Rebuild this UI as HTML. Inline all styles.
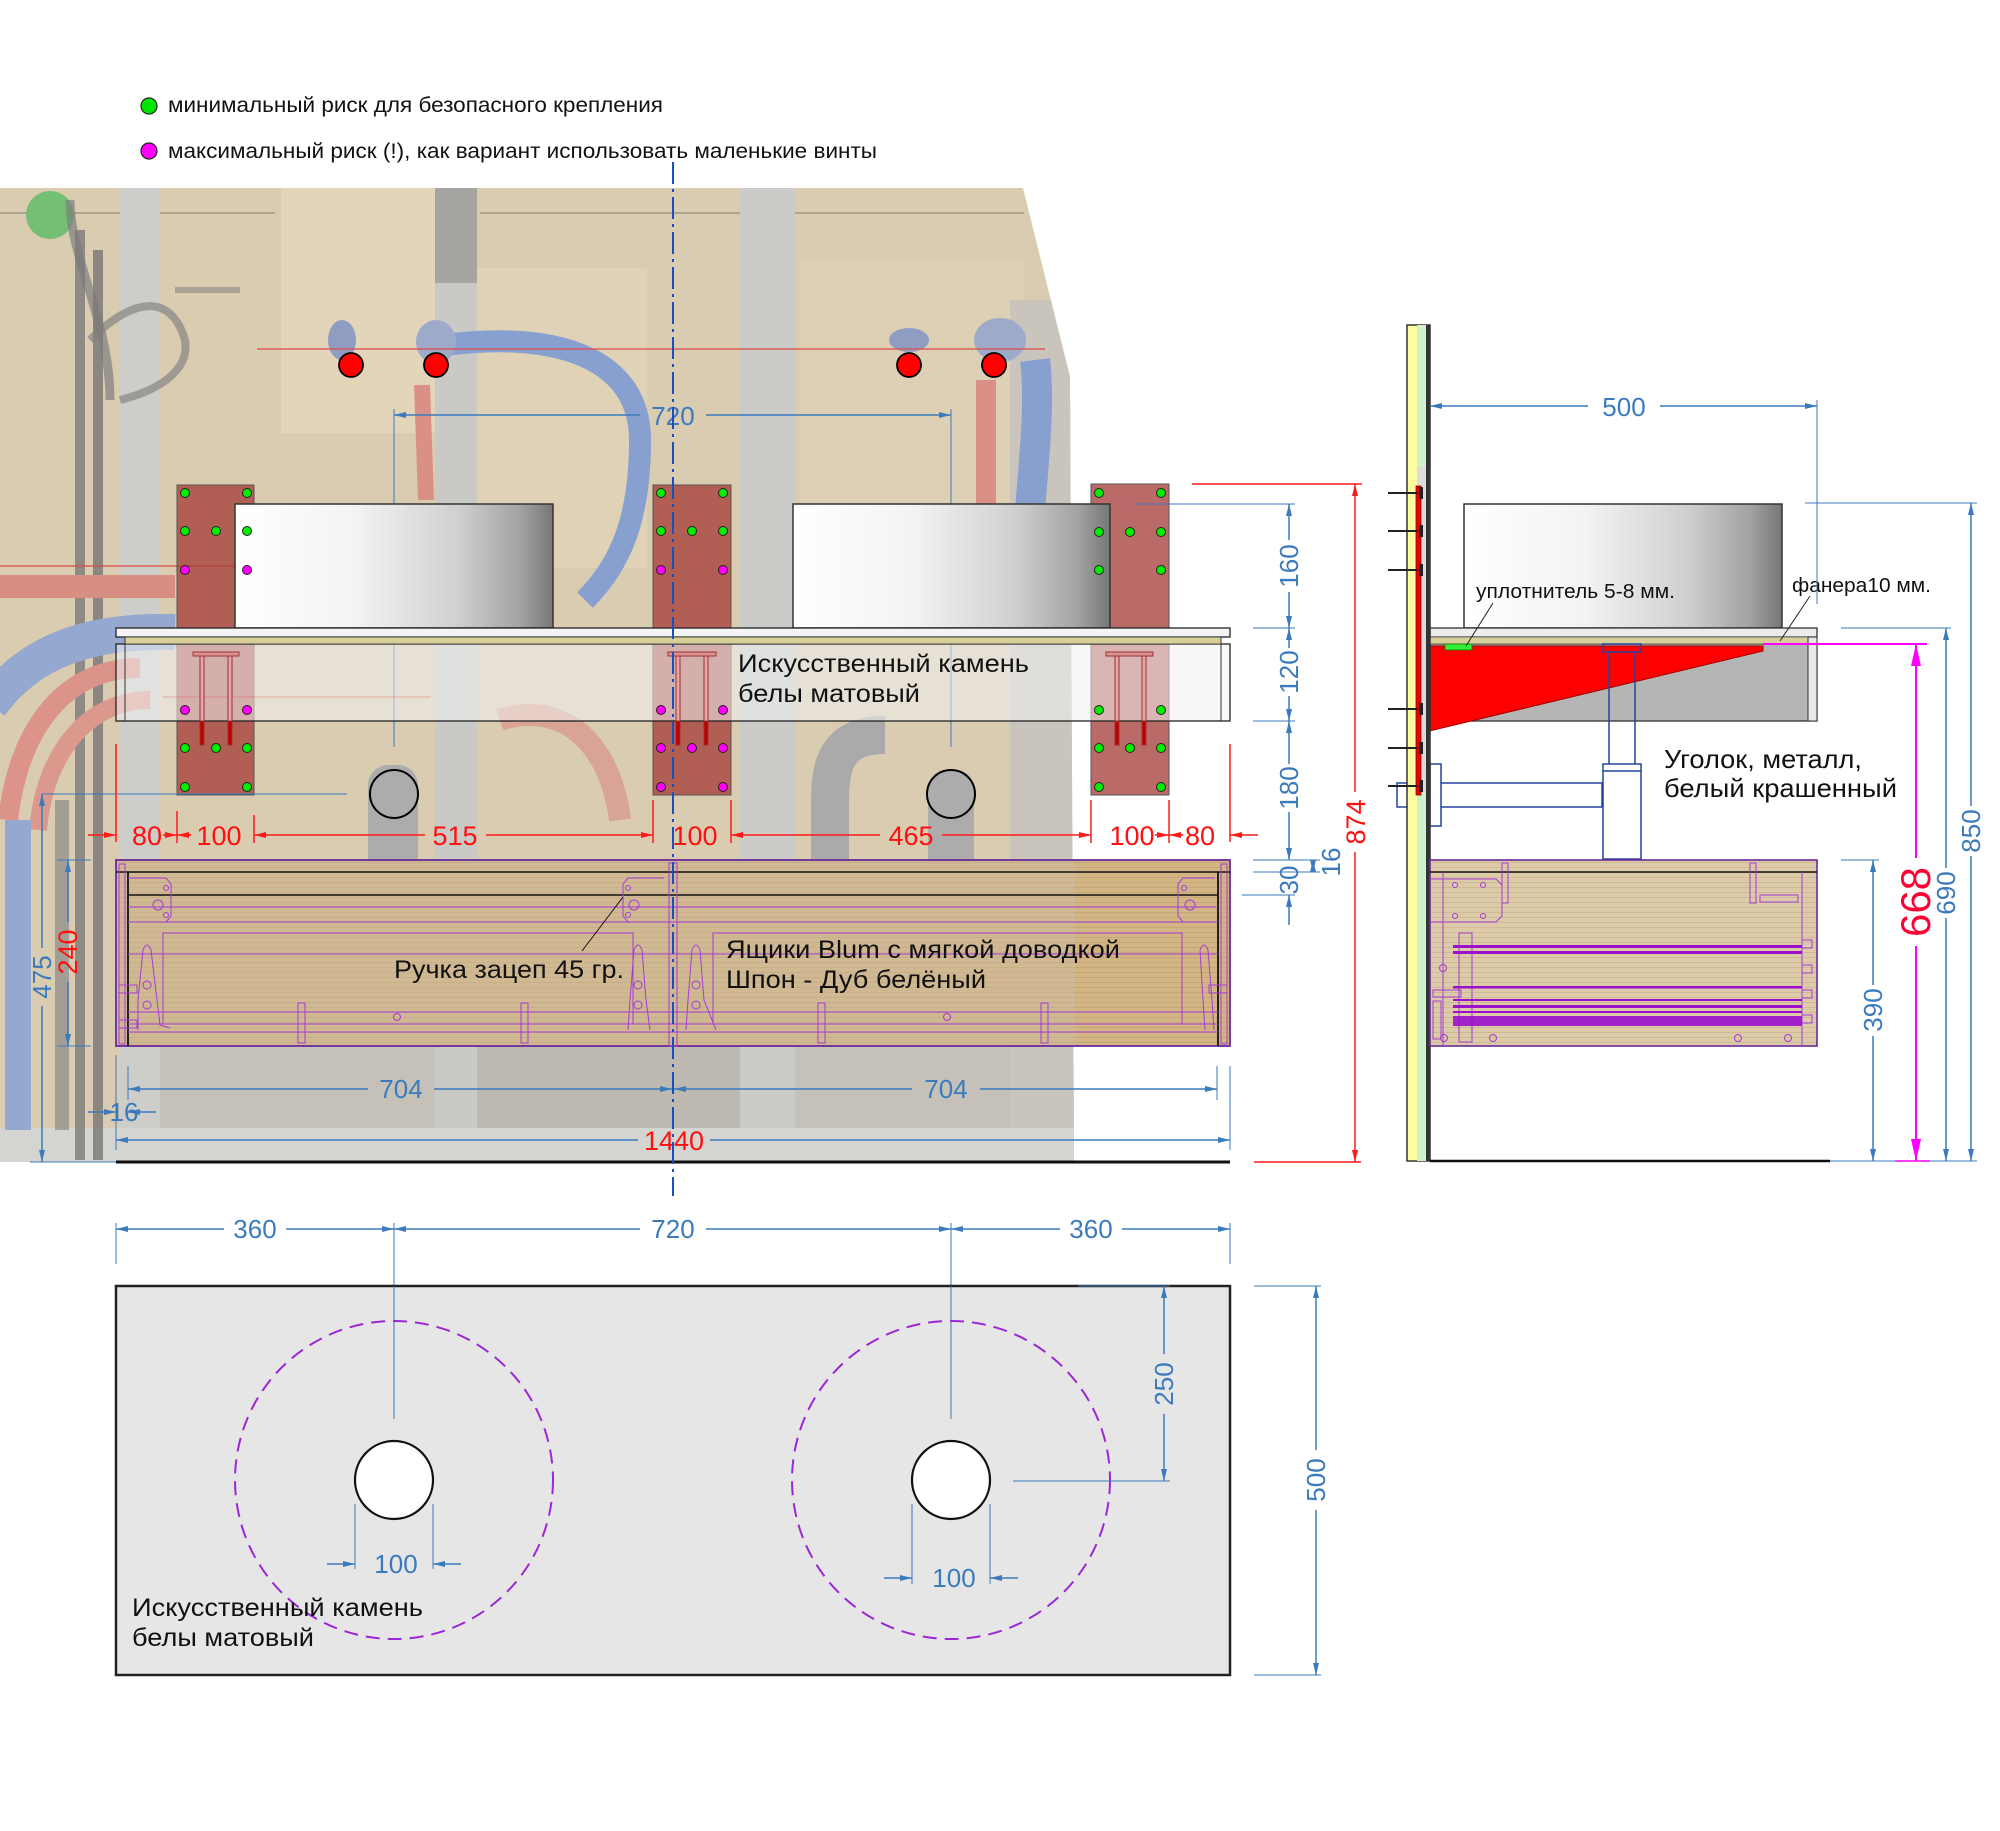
<!DOCTYPE html>
<html><head><meta charset="utf-8">
<style>
html,body{margin:0;padding:0;background:#fff;}
svg{display:block;}
text{font-family:"Liberation Sans","DejaVu Sans",sans-serif;}
.b{stroke:#3b7bbd;stroke-width:1.5;fill:none}
.bt{stroke:#3b7bbd;stroke-width:1;fill:none}
.r{stroke:#ff1a1a;stroke-width:1.5;fill:none}
.p{stroke:#a63ad6;stroke-width:1;fill:none}
.pk{stroke:#8a20c0;stroke-width:1.3;fill:none}
.tb{fill:#3b7bbd;font-size:26px}
.tr{fill:#ff1010;font-size:27px}
.tk{fill:#111;font-size:25px}
</style></head><body>
<svg width="2000" height="1831" viewBox="0 0 2000 1831" xmlns="http://www.w3.org/2000/svg">
<defs>
<marker id="ab" viewBox="0 0 12 6" refX="12" refY="3" markerWidth="12" markerHeight="6" markerUnits="userSpaceOnUse" orient="auto-start-reverse"><path d="M0,0L12,3L0,6z" fill="#3b7bbd"/></marker>
<marker id="ar" viewBox="0 0 12 6" refX="12" refY="3" markerWidth="12" markerHeight="6" markerUnits="userSpaceOnUse" orient="auto-start-reverse"><path d="M0,0L12,3L0,6z" fill="#ff1a1a"/></marker>
<marker id="am" viewBox="0 0 22 10" refX="22" refY="5" markerWidth="22" markerHeight="10" markerUnits="userSpaceOnUse" orient="auto-start-reverse"><path d="M0,0L22,5L0,10z" fill="#ff00ff"/></marker>
<linearGradient id="sk" x1="0" y1="0" x2="1" y2="0">
<stop offset="0" stop-color="#ffffff"/><stop offset="0.38" stop-color="#f3f3f3"/><stop offset="0.7" stop-color="#d0d0d0"/><stop offset="0.9" stop-color="#a2a2a2"/><stop offset="1" stop-color="#767676"/></linearGradient>
<pattern id="grain" width="60" height="5" patternUnits="userSpaceOnUse"><line x1="0" y1="2.5" x2="60" y2="2.5" stroke="#7a5a30" stroke-opacity="0.14" stroke-width="1"/></pattern>
<clipPath id="pc"><polygon points="0,188 1023,188 1070,377 1074,1162 0,1162"/></clipPath>
</defs>

<!-- Legend -->
<circle cx="149" cy="106" r="8" fill="#00e600" stroke="#222" stroke-width="1.2"/>
<text x="168" y="112" font-size="21" fill="#111" textLength="495" lengthAdjust="spacingAndGlyphs">минимальный риск для безопасного крепления</text>
<circle cx="149" cy="151" r="8" fill="#ff00ff" stroke="#222" stroke-width="1.2"/>
<text x="168" y="158" font-size="21" fill="#111" textLength="709" lengthAdjust="spacingAndGlyphs">максимальный риск (!), как вариант использовать маленькие винты</text>

<!-- PHOTO -->
<g clip-path="url(#pc)">
<rect x="0" y="188" width="1080" height="975" fill="#d9ccb1"/>
<rect x="281" y="188" width="154" height="245" fill="#e2d5ba"/>
<rect x="477" y="268" width="170" height="300" fill="#e0d2b6"/>
<rect x="800" y="262" width="224" height="240" fill="#ddd0b5"/>
<rect x="160" y="1040" width="920" height="122" fill="#c6c1b8"/>
<rect x="477" y="1040" width="263" height="122" fill="#bdb8b0"/>
<line x1="0" y1="213" x2="275" y2="213" stroke="#b0a48c" stroke-width="2"/>
<line x1="480" y1="213" x2="1024" y2="213" stroke="#b0a48c" stroke-width="2"/>
<!-- studs -->
<rect x="120" y="188" width="40" height="975" fill="#cdcdca"/>
<rect x="435" y="188" width="42" height="975" fill="#c9c9c5"/>
<rect x="435" y="188" width="42" height="95" fill="#a4a4a0"/>
<rect x="740" y="188" width="55" height="975" fill="#cbcbc7"/>
<rect x="1010" y="300" width="65" height="863" fill="#c9c5bc"/>
<rect x="0" y="1128" width="1080" height="34" fill="#d4d4d0"/>
<!-- green box -->
<circle cx="50" cy="215" r="24" fill="#74bf74"/>
<!-- cables -->
<path d="M80 230 L80 1160" stroke="#757575" stroke-width="10" fill="none" opacity="0.75"/>
<path d="M98 250 L98 1160" stroke="#707070" stroke-width="10" fill="none" opacity="0.75"/>
<path d="M70 200 C70 260 110 320 110 400" stroke="#7a7a7a" stroke-width="9" fill="none" opacity="0.65"/>
<path d="M90 340 C130 300 170 290 185 340 C190 370 160 390 120 400" stroke="#7f7f7f" stroke-width="8" fill="none" opacity="0.65"/>
<path d="M175 290 L240 290" stroke="#7f7f7f" stroke-width="6" fill="none" opacity="0.55"/>
<!-- left pipes -->
<rect x="0" y="575" width="175" height="23" fill="#d98e82"/>
<path d="M175 632 C90 630 30 650 -10 705" stroke="#94a8d0" stroke-width="36" fill="none"/>
<path d="M140 668 C70 668 20 720 8 820" stroke="#db938a" stroke-width="20" fill="none"/>
<path d="M150 700 C90 700 45 750 38 830" stroke="#db998e" stroke-width="18" fill="none"/>
<rect x="5" y="820" width="26" height="310" fill="#94a8d0"/>
<rect x="55" y="800" width="14" height="330" fill="#858585" opacity="0.65"/>
<!-- top pipes -->
<path d="M445 345 C560 330 640 360 640 440 C640 520 620 565 585 600" stroke="#88a0d0" stroke-width="22" fill="none"/>
<ellipse cx="342" cy="340" rx="14" ry="20" fill="#909dc2"/>
<ellipse cx="436" cy="342" rx="20" ry="22" fill="#9eaaca"/>
<path d="M422 385 L426 500" stroke="#da9087" stroke-width="16" fill="none"/>
<ellipse cx="909" cy="340" rx="20" ry="12" fill="#909dc2"/>
<ellipse cx="1000" cy="340" rx="26" ry="22" fill="#9eaaca"/>
<path d="M986 380 L986 520" stroke="#da9087" stroke-width="20" fill="none"/>
<path d="M1035 360 C1040 400 1035 450 1030 510" stroke="#88a0d0" stroke-width="30" fill="none"/>
<path d="M500 720 C560 700 610 740 620 820" stroke="#d8978e" stroke-width="22" fill="none" opacity="0.75"/>
<!-- drains -->
<rect x="368" y="765" width="50" height="125" rx="20" fill="#acacac"/>
<path d="M885 735 C840 735 830 760 830 800 L830 890" stroke="#aaaaaa" stroke-width="38" fill="none"/>
<rect x="928" y="770" width="46" height="120" rx="18" fill="#acacac"/>
</g>

<!-- red line & dots -->
<line x1="257" y1="349" x2="1045" y2="349" stroke="#e04848" stroke-width="1.2"/>
<line x1="0" y1="566" x2="235" y2="566" stroke="#e04848" stroke-width="1.2"/>
<g fill="#ff0000" stroke="#000" stroke-width="1.8">
<circle cx="351" cy="365" r="12"/><circle cx="436" cy="365" r="12"/><circle cx="909" cy="365" r="12"/><circle cx="994" cy="365" r="12"/>
</g>

<!-- top 720 dimension -->
<line class="bt" x1="394" y1="409" x2="394" y2="747"/>
<line class="bt" x1="951" y1="409" x2="951" y2="747"/>
<line class="b" x1="394" y1="415" x2="640" y2="415" marker-start="url(#ab)"/>
<line class="b" x1="706" y1="415" x2="951" y2="415" marker-end="url(#ab)"/>
<text class="tb" x="673" y="425" text-anchor="middle" font-size="27">720</text>

<!-- plates -->
<g fill="#a33a35" fill-opacity="0.75" stroke="#555" stroke-width="1">
<rect x="177" y="485" width="77" height="310"/>
<rect x="653" y="485" width="78" height="310"/>
<rect x="1091" y="484" width="78" height="311"/>
</g>

<!-- sinks -->
<rect x="235" y="504" width="318" height="124" fill="url(#sk)" stroke="#333" stroke-width="1.5"/>
<rect x="793" y="504" width="317" height="124" fill="url(#sk)" stroke="#333" stroke-width="1.5"/>

<!-- countertop front -->
<rect x="116" y="644" width="1114" height="77" fill="#f2f2f2" fill-opacity="0.55" stroke="#222" stroke-width="1.3"/>
<rect x="116" y="628" width="1114" height="9" fill="#f4f4f4" stroke="#222" stroke-width="1.3"/>
<rect x="125" y="637" width="1096" height="7" fill="#d8cf98" stroke="#333" stroke-width="0.8"/>
<line x1="125" y1="637" x2="125" y2="721" stroke="#333" stroke-width="1"/>
<line x1="1221" y1="637" x2="1221" y2="721" stroke="#333" stroke-width="1"/>
<line x1="163" y1="697" x2="431" y2="697" stroke="#e06060" stroke-width="0.8" opacity="0.6"/>

<!-- T brackets -->
<g stroke="#a03030" stroke-width="1">
<rect x="193" y="652" width="46" height="4" fill="#d89494"/>
<rect x="200" y="656" width="4" height="89" fill="#e0a8a8"/>
<rect x="228" y="656" width="4" height="89" fill="#e0a8a8"/>
<rect x="200" y="721" width="4" height="24" fill="#c00000"/>
<rect x="228" y="721" width="4" height="24" fill="#c00000"/>
<rect x="668" y="652" width="48" height="4" fill="#d89494"/>
<rect x="676" y="656" width="4" height="89" fill="#e0a8a8"/>
<rect x="704" y="656" width="4" height="89" fill="#e0a8a8"/>
<rect x="676" y="721" width="4" height="24" fill="#c00000"/>
<rect x="704" y="721" width="4" height="24" fill="#c00000"/>
<rect x="1106" y="652" width="47" height="4" fill="#d89494"/>
<rect x="1115" y="656" width="4" height="89" fill="#e0a8a8"/>
<rect x="1142" y="656" width="4" height="89" fill="#e0a8a8"/>
<rect x="1115" y="721" width="4" height="24" fill="#c00000"/>
<rect x="1142" y="721" width="4" height="24" fill="#c00000"/>
</g>

<!-- dots -->
<g stroke="#222" stroke-width="1" fill="#00ee00">
<circle cx="185" cy="493" r="4.5"/><circle cx="247" cy="493" r="4.5"/>
<circle cx="185" cy="531" r="4.5"/><circle cx="216" cy="531" r="4.5"/><circle cx="247" cy="531" r="4.5"/>
<circle cx="185" cy="748" r="4.5"/><circle cx="216" cy="748" r="4.5"/><circle cx="247" cy="748" r="4.5"/>
<circle cx="185" cy="787" r="4.5"/><circle cx="247" cy="787" r="4.5"/>
<circle cx="661" cy="493" r="4.5"/><circle cx="723" cy="493" r="4.5"/>
<circle cx="661" cy="531" r="4.5"/><circle cx="692" cy="531" r="4.5"/><circle cx="723" cy="531" r="4.5"/>
<circle cx="1099" cy="493" r="4.5"/><circle cx="1161" cy="493" r="4.5"/>
<circle cx="1099" cy="532" r="4.5"/><circle cx="1130" cy="532" r="4.5"/><circle cx="1161" cy="532" r="4.5"/>
<circle cx="1099" cy="570" r="4.5"/><circle cx="1161" cy="570" r="4.5"/>
<circle cx="1099" cy="710" r="4.5"/><circle cx="1161" cy="710" r="4.5"/>
<circle cx="1099" cy="748" r="4.5"/><circle cx="1130" cy="748" r="4.5"/><circle cx="1161" cy="748" r="4.5"/>
<circle cx="1099" cy="787" r="4.5"/><circle cx="1161" cy="787" r="4.5"/>
</g>
<g stroke="#222" stroke-width="1" fill="#ff00ff">
<circle cx="185" cy="570" r="4.5"/><circle cx="247" cy="570" r="4.5"/>
<circle cx="185" cy="710" r="4.5"/><circle cx="247" cy="710" r="4.5"/>
<circle cx="661" cy="570" r="4.5"/><circle cx="723" cy="570" r="4.5"/>
<circle cx="661" cy="710" r="4.5"/><circle cx="723" cy="710" r="4.5"/>
<circle cx="661" cy="748" r="4.5"/><circle cx="692" cy="748" r="4.5"/><circle cx="723" cy="748" r="4.5"/>
<circle cx="661" cy="787" r="4.5"/><circle cx="723" cy="787" r="4.5"/>
</g>

<!-- drain circles -->
<circle cx="394" cy="794" r="24" fill="none" stroke="#000" stroke-width="2"/>
<circle cx="951" cy="794" r="24" fill="none" stroke="#000" stroke-width="2"/>
<line class="bt" x1="42" y1="794" x2="347" y2="794"/>

<!-- red dimension row -->
<line class="r" x1="116" y1="744" x2="116" y2="842"/>
<line class="r" x1="177" y1="811" x2="177" y2="843"/>
<line class="r" x1="254" y1="815" x2="254" y2="843"/>
<line class="r" x1="653" y1="800" x2="653" y2="843"/>
<line class="r" x1="731" y1="800" x2="731" y2="843"/>
<line class="r" x1="1091" y1="800" x2="1091" y2="843"/>
<line class="r" x1="1169" y1="800" x2="1169" y2="843"/>
<line class="r" x1="1230" y1="744" x2="1230" y2="842"/>
<line class="r" x1="88" y1="835" x2="116" y2="835" marker-end="url(#ar)"/>
<line class="r" x1="163" y1="835" x2="177" y2="835" marker-end="url(#ar)"/>
<line class="r" x1="191" y1="835" x2="177" y2="835" marker-end="url(#ar)"/>
<line class="r" x1="254" y1="835" x2="425" y2="835" marker-start="url(#ar)"/>
<line class="r" x1="486" y1="835" x2="653" y2="835" marker-end="url(#ar)"/>
<line class="r" x1="731" y1="835" x2="880" y2="835" marker-start="url(#ar)"/>
<line class="r" x1="942" y1="835" x2="1091" y2="835" marker-end="url(#ar)"/>
<line class="r" x1="1155" y1="835" x2="1169" y2="835" marker-end="url(#ar)"/>
<line class="r" x1="1183" y1="835" x2="1169" y2="835" marker-end="url(#ar)"/>
<line class="r" x1="1258" y1="835" x2="1230" y2="835" marker-end="url(#ar)"/>
<g class="tr" text-anchor="middle">
<text x="147" y="845">80</text><text x="219" y="845">100</text><text x="455" y="845">515</text>
<text x="695" y="845">100</text><text x="911" y="845">465</text><text x="1132" y="845">100</text><text x="1200" y="845">80</text>
</g>

<!-- front cabinet -->
<rect x="116" y="860" width="1114" height="186" fill="#d3b584"/>
<rect x="116" y="860" width="1114" height="186" fill="url(#grain)"/>
<rect x="116" y="860" width="959" height="186" fill="#c9c2b4" fill-opacity="0.3"/>
<rect x="116" y="860" width="1114" height="186" fill="none" stroke="#6a2a9a" stroke-width="1.8"/>
<line x1="116" y1="872" x2="1230" y2="872" stroke="#111" stroke-width="1.6"/>
<line x1="128" y1="895" x2="1218" y2="895" stroke="#111" stroke-width="1.4"/>
<line x1="128" y1="872" x2="128" y2="1046" stroke="#111" stroke-width="1.8"/>
<line x1="1218" y1="872" x2="1218" y2="1046" stroke="#111" stroke-width="1.8"/>
<g class="p">
<line x1="128" y1="907" x2="1218" y2="907"/><line x1="128" y1="922" x2="1218" y2="922"/>
<line x1="128" y1="954" x2="1218" y2="954"/>
<line x1="128" y1="1012" x2="1218" y2="1012"/><line x1="128" y1="1024" x2="1218" y2="1024"/><line x1="128" y1="1032" x2="1218" y2="1032"/>
<rect x="163" y="933" width="470" height="91"/>
<rect x="713" y="933" width="469" height="91"/>
<rect x="669" y="863" width="8" height="183"/>
<rect x="119" y="864" width="6" height="180"/>
<rect x="1221" y="864" width="6" height="180"/>
<path d="M128 878 L166 878 L171 884 L171 916 L166 922 L128 922"/>
<circle cx="158" cy="905" r="5"/><circle cx="166" cy="888" r="2.5"/><circle cx="166" cy="915" r="2.5"/>
<path d="M664 878 L628 878 L623 884 L623 916 L628 922 L664 922"/>
<circle cx="634" cy="905" r="5"/><circle cx="628" cy="888" r="2.5"/><circle cx="628" cy="915" r="2.5"/>
<path d="M1215 878 L1183 878 L1178 884 L1178 916 L1183 922 L1215 922"/>
<circle cx="1190" cy="905" r="5"/><circle cx="1184" cy="888" r="2.5"/>
<path d="M138 1030 L138 1000 L143 950 Q147 940 151 950 L157 1000 L160 1025 L170 1028"/>
<circle cx="147" cy="985" r="4"/><circle cx="147" cy="1005" r="4"/>
<path d="M628 1030 L630 1000 L634 950 Q638 940 642 950 L646 1000 L650 1030"/>
<circle cx="638" cy="985" r="4"/><circle cx="638" cy="1005" r="4"/>
<path d="M686 1030 L688 1000 L692 950 Q696 940 700 950 L704 1000 L716 1030"/>
<circle cx="696" cy="985" r="4"/><circle cx="696" cy="1005" r="4"/>
<path d="M1205 1030 L1203 1000 L1200 950 Q1204 940 1208 950 L1212 1000 L1214 1030"/>
<rect x="298" y="1003" width="7" height="40"/><rect x="521" y="1003" width="7" height="40"/>
<rect x="818" y="1003" width="7" height="40"/><rect x="1041" y="1003" width="7" height="40"/>
<circle cx="397" cy="1017" r="3.5"/><circle cx="947" cy="1017" r="3.5"/>
<rect x="119" y="985" width="18" height="8"/><rect x="119" y="1020" width="18" height="8"/><rect x="1209" y="985" width="18" height="8"/>
</g>
<line x1="582" y1="951" x2="623" y2="897" stroke="#111" stroke-width="1"/>
<text class="tk" x="394" y="978" textLength="230" lengthAdjust="spacingAndGlyphs">Ручка зацеп 45 гр.</text>
<text class="tk" x="726" y="958" textLength="394" lengthAdjust="spacingAndGlyphs">Ящики Blum с мягкой доводкой</text>
<text class="tk" x="726" y="988" textLength="260" lengthAdjust="spacingAndGlyphs">Шпон - Дуб белёный</text>
<text class="tk" x="738" y="672" textLength="291" lengthAdjust="spacingAndGlyphs">Искусственный камень</text>
<text class="tk" x="738" y="702" textLength="182" lengthAdjust="spacingAndGlyphs">белы матовый</text>

<!-- dims below cabinet -->
<line class="bt" x1="116" y1="1055" x2="116" y2="1150"/>
<line class="bt" x1="128" y1="1066" x2="128" y2="1100"/>
<line class="bt" x1="1217" y1="1066" x2="1217" y2="1100"/>
<line class="bt" x1="1230" y1="1066" x2="1230" y2="1150"/>
<line class="b" x1="128" y1="1089" x2="368" y2="1089" marker-start="url(#ab)"/>
<line class="b" x1="434" y1="1089" x2="672" y2="1089" marker-end="url(#ab)"/>
<text class="tb" x="401" y="1098" text-anchor="middle">704</text>
<line class="b" x1="674" y1="1089" x2="912" y2="1089" marker-start="url(#ab)"/>
<line class="b" x1="980" y1="1089" x2="1217" y2="1089" marker-end="url(#ab)"/>
<text class="tb" x="946" y="1098" text-anchor="middle">704</text>
<line class="b" x1="88" y1="1112" x2="116" y2="1112" marker-end="url(#ab)"/>
<line class="b" x1="156" y1="1112" x2="128" y2="1112" marker-end="url(#ab)"/>
<text class="tb" x="124" y="1121" text-anchor="middle">16</text>
<line class="b" x1="116" y1="1140" x2="638" y2="1140" marker-start="url(#ab)"/>
<line class="b" x1="710" y1="1140" x2="1230" y2="1140" marker-end="url(#ab)"/>
<text class="tr" x="674" y="1150" text-anchor="middle">1440</text>
<line x1="116" y1="1162" x2="1230" y2="1162" stroke="#111" stroke-width="3"/>
<line class="bt" x1="30" y1="1162" x2="116" y2="1162"/>
<!-- 475 / 240 -->
<line class="b" x1="42" y1="794" x2="42" y2="948" marker-start="url(#ab)"/>
<line class="b" x1="42" y1="1006" x2="42" y2="1162" marker-end="url(#ab)"/>
<text class="tb" transform="translate(51,977) rotate(-90)" text-anchor="middle">475</text>
<line class="bt" x1="57" y1="860" x2="91" y2="860"/>
<line class="bt" x1="57" y1="1046" x2="91" y2="1046"/>
<line class="b" x1="68" y1="860" x2="68" y2="922" marker-start="url(#ab)"/>
<line class="b" x1="68" y1="982" x2="68" y2="1046" marker-end="url(#ab)"/>
<text class="tr" transform="translate(77,952) rotate(-90)" text-anchor="middle">240</text>

<!-- centerline -->
<line x1="673" y1="162" x2="673" y2="1196" stroke="#1a4fc0" stroke-width="2" stroke-dasharray="22 5 3 5"/>

<!-- front right dims -->
<line class="bt" x1="1133" y1="504" x2="1295" y2="504"/>
<line class="bt" x1="1253" y1="628" x2="1295" y2="628"/>
<line class="bt" x1="1253" y1="721" x2="1295" y2="721"/>
<line class="bt" x1="1253" y1="860" x2="1320" y2="860"/>
<line class="bt" x1="1253" y1="872" x2="1320" y2="872"/>
<line class="bt" x1="1242" y1="895" x2="1295" y2="895"/>
<line class="b" x1="1289" y1="504" x2="1289" y2="540" marker-start="url(#ab)"/>
<line class="b" x1="1289" y1="592" x2="1289" y2="628" marker-end="url(#ab)"/>
<text class="tb" transform="translate(1298,566) rotate(-90)" text-anchor="middle">160</text>
<line class="b" x1="1289" y1="628" x2="1289" y2="648" marker-start="url(#ab)"/>
<line class="b" x1="1289" y1="696" x2="1289" y2="721" marker-end="url(#ab)"/>
<text class="tb" transform="translate(1298,672) rotate(-90)" text-anchor="middle">120</text>
<line class="b" x1="1289" y1="721" x2="1289" y2="764" marker-start="url(#ab)"/>
<line class="b" x1="1289" y1="812" x2="1289" y2="860" marker-end="url(#ab)"/>
<text class="tb" transform="translate(1298,788) rotate(-90)" text-anchor="middle">180</text>
<line class="b" x1="1289" y1="895" x2="1289" y2="925" marker-start="url(#ab)"/>
<text class="tb" transform="translate(1298,880) rotate(-90)" text-anchor="middle">30</text>
<line class="b" x1="1313" y1="872" x2="1313" y2="860" marker-end="url(#ab)"/>
<line class="b" x1="1313" y1="860" x2="1313" y2="872" marker-end="url(#ab)"/>
<text class="tb" transform="translate(1340,862) rotate(-90)" text-anchor="middle">16</text>
<line class="r" x1="1192" y1="484" x2="1362" y2="484"/>
<line class="r" x1="1254" y1="1162" x2="1361" y2="1162"/>
<line class="r" x1="1355" y1="484" x2="1355" y2="792" marker-start="url(#ar)"/>
<line class="r" x1="1355" y1="852" x2="1355" y2="1162" marker-end="url(#ar)"/>
<text class="tr" transform="translate(1365,822) rotate(-90)" text-anchor="middle">874</text>

<!-- RIGHT SIDE VIEW -->
<rect x="1464" y="504" width="318" height="124" fill="url(#sk)" stroke="#333" stroke-width="1.5"/>
<rect x="1430" y="644" width="387" height="77" fill="#b5b5b5" stroke="#333" stroke-width="1.3"/>
<rect x="1430" y="628" width="387" height="9" fill="#ececec" stroke="#333" stroke-width="1.3"/>
<rect x="1430" y="637" width="378" height="7" fill="#d8cf9a" stroke="#555" stroke-width="0.8"/>
<rect x="1808" y="637" width="9" height="84" fill="#e8e8e8" stroke="#333" stroke-width="1"/>
<polygon points="1421,646 1763,646 1763,651 1421,733" fill="#ff0000" stroke="#a00000" stroke-width="1"/>
<rect x="1445" y="644" width="27" height="6" fill="#33ee33" stroke="#080" stroke-width="0.8"/>
<!-- siphon -->
<g stroke="#2244a0" stroke-width="1.5" fill="none">
<rect x="1603" y="644" width="38" height="8"/>
<line x1="1609" y1="652" x2="1609" y2="764"/><line x1="1635" y1="652" x2="1635" y2="764"/>
<rect x="1603" y="764" width="38" height="95" fill="#fff"/>
<line x1="1603" y1="771" x2="1641" y2="771"/>
<rect x="1397" y="783" width="205" height="24" fill="#fff" fill-opacity="0.6"/>
<rect x="1430" y="764" width="11" height="62" fill="#fff"/>
</g>
<!-- wall -->
<rect x="1407" y="325" width="23" height="836" fill="#fdfda0" stroke="#333" stroke-width="1.5"/>
<rect x="1417" y="325" width="9" height="836" fill="#ccf3cc"/>
<rect x="1417" y="467" width="9" height="326" fill="#dcdcdc"/>
<rect x="1426" y="325" width="4" height="836" fill="#333"/>
<rect x="1416" y="486" width="5" height="309" fill="#ee0000" stroke="#800" stroke-width="0.8"/>
<g stroke="#222" stroke-width="2">
<line x1="1388" y1="493" x2="1418" y2="493"/><line x1="1388" y1="531" x2="1418" y2="531"/><line x1="1388" y1="570" x2="1418" y2="570"/>
<line x1="1388" y1="709" x2="1418" y2="709"/><line x1="1388" y1="748" x2="1418" y2="748"/><line x1="1388" y1="786" x2="1418" y2="786"/>
</g>
<g fill="#222">
<rect x="1419" y="487" width="4" height="12"/><rect x="1419" y="525" width="4" height="12"/><rect x="1419" y="564" width="4" height="12"/>
<rect x="1419" y="703" width="4" height="12"/><rect x="1419" y="742" width="4" height="12"/><rect x="1419" y="780" width="4" height="12"/>
</g>
<line x1="1763" y1="644" x2="1927" y2="644" stroke="#ff00ff" stroke-width="2"/>
<!-- side cabinet -->
<rect x="1430" y="860" width="387" height="186" fill="#dccaa9"/>
<rect x="1430" y="860" width="387" height="186" fill="url(#grain)"/>
<rect x="1430" y="860" width="387" height="186" fill="none" stroke="#6a2a9a" stroke-width="1.6"/>
<line x1="1430" y1="872" x2="1817" y2="872" stroke="#111" stroke-width="1.5"/>
<g class="p">
<line x1="1443" y1="872" x2="1443" y2="1046"/><line x1="1802" y1="872" x2="1802" y2="1046"/>
<path d="M1430 879 L1496 879 L1502 885 L1502 916 L1496 922 L1430 922"/>
<circle cx="1455" cy="885" r="2.5"/><circle cx="1483" cy="885" r="2.5"/><circle cx="1455" cy="916" r="2.5"/><circle cx="1483" cy="916" r="2.5"/>
<rect x="1502" y="863" width="6" height="40"/><rect x="1750" y="863" width="6" height="40"/>
<rect x="1760" y="895" width="38" height="7"/>
<rect x="1459" y="933" width="13" height="109"/>
<rect x="1433" y="990" width="28" height="7"/>
<rect x="1433" y="1001" width="8" height="38"/>
<rect x="1802" y="940" width="10" height="8"/><rect x="1802" y="965" width="10" height="8"/><rect x="1802" y="990" width="10" height="8"/><rect x="1802" y="1015" width="10" height="8"/>
<circle cx="1443" cy="968" r="3.5"/><circle cx="1444" cy="1038" r="3.5"/><circle cx="1493" cy="1038" r="3.5"/><circle cx="1738" cy="1038" r="3.5"/><circle cx="1788" cy="1038" r="3.5"/>
</g>
<g fill="#9a10cc">
<rect x="1453" y="945" width="349" height="3"/>
<rect x="1453" y="951" width="349" height="3"/>
<rect x="1453" y="986" width="349" height="2.5"/>
<rect x="1453" y="999" width="349" height="2"/>
<rect x="1453" y="1005" width="349" height="3"/>
<rect x="1453" y="1011" width="349" height="2"/>
<rect x="1453" y="1016" width="349" height="10" fill-opacity="0.9"/>
</g>
<line x1="1430" y1="1161" x2="1830" y2="1161" stroke="#111" stroke-width="2.5"/>
<!-- labels right -->
<line x1="1493" y1="603" x2="1466" y2="646" stroke="#222" stroke-width="1"/>
<line x1="1810" y1="596" x2="1780" y2="641" stroke="#222" stroke-width="1"/>
<text x="1476" y="598" font-size="20" fill="#111" textLength="199" lengthAdjust="spacingAndGlyphs">уплотнитель 5-8 мм.</text>
<text x="1792" y="592" font-size="20" fill="#111" textLength="139" lengthAdjust="spacingAndGlyphs">фанера10 мм.</text>
<text x="1664" y="768" font-size="26" fill="#111" textLength="198" lengthAdjust="spacingAndGlyphs">Уголок, металл,</text>
<text x="1664" y="797" font-size="26" fill="#111" textLength="233" lengthAdjust="spacingAndGlyphs">белый крашенный</text>
<!-- right dims -->
<line class="bt" x1="1817" y1="400" x2="1817" y2="604"/>
<line class="b" x1="1430" y1="406" x2="1588" y2="406" marker-start="url(#ab)"/>
<line class="b" x1="1660" y1="406" x2="1817" y2="406" marker-end="url(#ab)"/>
<text class="tb" x="1624" y="416" text-anchor="middle" font-size="27">500</text>
<line class="bt" x1="1805" y1="503" x2="1977" y2="503"/>
<line class="bt" x1="1841" y1="628" x2="1951" y2="628"/>
<line class="bt" x1="1841" y1="860" x2="1879" y2="860"/>
<line class="bt" x1="1830" y1="1161" x2="1977" y2="1161"/>
<line x1="1895" y1="1161" x2="1930" y2="1161" stroke="#ff00ff" stroke-width="1.5"/>
<line class="b" x1="1873" y1="860" x2="1873" y2="985" marker-start="url(#ab)"/>
<line class="b" x1="1873" y1="1036" x2="1873" y2="1161" marker-end="url(#ab)"/>
<text class="tb" transform="translate(1882,1010) rotate(-90)" text-anchor="middle">390</text>
<line x1="1916" y1="644" x2="1916" y2="858" stroke="#ff00ff" stroke-width="2" marker-start="url(#am)"/>
<line x1="1916" y1="946" x2="1916" y2="1161" stroke="#ff00ff" stroke-width="2" marker-end="url(#am)"/>
<text transform="translate(1930,902) rotate(-90)" text-anchor="middle" font-size="42" fill="#ff0033">668</text>
<line class="b" x1="1946" y1="628" x2="1946" y2="868" marker-start="url(#ab)"/>
<line class="b" x1="1946" y1="918" x2="1946" y2="1161" marker-end="url(#ab)"/>
<text class="tb" transform="translate(1955,893) rotate(-90)" text-anchor="middle">690</text>
<line class="b" x1="1971" y1="503" x2="1971" y2="806" marker-start="url(#ab)"/>
<line class="b" x1="1971" y1="856" x2="1971" y2="1161" marker-end="url(#ab)"/>
<text class="tb" transform="translate(1980,831) rotate(-90)" text-anchor="middle">850</text>

<!-- PLAN VIEW -->
<line class="bt" x1="116" y1="1223" x2="116" y2="1264"/>
<line class="bt" x1="1230" y1="1223" x2="1230" y2="1264"/>
<line class="bt" x1="394" y1="1223" x2="394" y2="1419"/>
<line class="bt" x1="951" y1="1223" x2="951" y2="1419"/>
<line class="b" x1="116" y1="1229" x2="224" y2="1229" marker-start="url(#ab)"/>
<line class="b" x1="286" y1="1229" x2="394" y2="1229" marker-end="url(#ab)"/>
<text class="tb" x="255" y="1238" text-anchor="middle">360</text>
<line class="b" x1="394" y1="1229" x2="640" y2="1229" marker-start="url(#ab)"/>
<line class="b" x1="706" y1="1229" x2="951" y2="1229" marker-end="url(#ab)"/>
<text class="tb" x="673" y="1238" text-anchor="middle">720</text>
<line class="b" x1="951" y1="1229" x2="1060" y2="1229" marker-start="url(#ab)"/>
<line class="b" x1="1122" y1="1229" x2="1230" y2="1229" marker-end="url(#ab)"/>
<text class="tb" x="1091" y="1238" text-anchor="middle">360</text>
<rect x="116" y="1286" width="1114" height="389" fill="#e6e6e6" stroke="#222" stroke-width="2.5"/>
<line class="bt" x1="394" y1="1286" x2="394" y2="1419"/>
<line class="bt" x1="951" y1="1286" x2="951" y2="1419"/>
<circle cx="394" cy="1480" r="159" fill="none" stroke="#9b27d6" stroke-width="2" stroke-dasharray="14 8"/>
<circle cx="951" cy="1480" r="159" fill="none" stroke="#9b27d6" stroke-width="2" stroke-dasharray="14 8"/>
<circle cx="394" cy="1480" r="39" fill="#fff" stroke="#111" stroke-width="2.2"/>
<circle cx="951" cy="1480" r="39" fill="#fff" stroke="#111" stroke-width="2.2"/>
<line class="bt" x1="355" y1="1504" x2="355" y2="1569"/>
<line class="bt" x1="433" y1="1504" x2="433" y2="1569"/>
<line class="b" x1="327" y1="1564" x2="355" y2="1564" marker-end="url(#ab)"/>
<line class="b" x1="461" y1="1564" x2="433" y2="1564" marker-end="url(#ab)"/>
<text class="tb" x="396" y="1573" text-anchor="middle">100</text>
<line class="bt" x1="912" y1="1504" x2="912" y2="1584"/>
<line class="bt" x1="990" y1="1504" x2="990" y2="1584"/>
<line class="b" x1="884" y1="1578" x2="912" y2="1578" marker-end="url(#ab)"/>
<line class="b" x1="1018" y1="1578" x2="990" y2="1578" marker-end="url(#ab)"/>
<text class="tb" x="954" y="1587" text-anchor="middle">100</text>
<line class="bt" x1="1078" y1="1286" x2="1170" y2="1286"/>
<line class="bt" x1="1013" y1="1481" x2="1170" y2="1481"/>
<line class="b" x1="1164" y1="1286" x2="1164" y2="1354" marker-start="url(#ab)"/>
<line class="b" x1="1164" y1="1414" x2="1164" y2="1481" marker-end="url(#ab)"/>
<text class="tb" transform="translate(1173,1384) rotate(-90)" text-anchor="middle">250</text>
<line class="bt" x1="1254" y1="1286" x2="1321" y2="1286"/>
<line class="bt" x1="1254" y1="1675" x2="1321" y2="1675"/>
<line class="b" x1="1316" y1="1286" x2="1316" y2="1450" marker-start="url(#ab)"/>
<line class="b" x1="1316" y1="1510" x2="1316" y2="1675" marker-end="url(#ab)"/>
<text class="tb" transform="translate(1325,1480) rotate(-90)" text-anchor="middle">500</text>
<text class="tk" x="132" y="1616" textLength="291" lengthAdjust="spacingAndGlyphs">Искусственный камень</text>
<text class="tk" x="132" y="1646" textLength="182" lengthAdjust="spacingAndGlyphs">белы матовый</text>
</svg>
</body></html>
